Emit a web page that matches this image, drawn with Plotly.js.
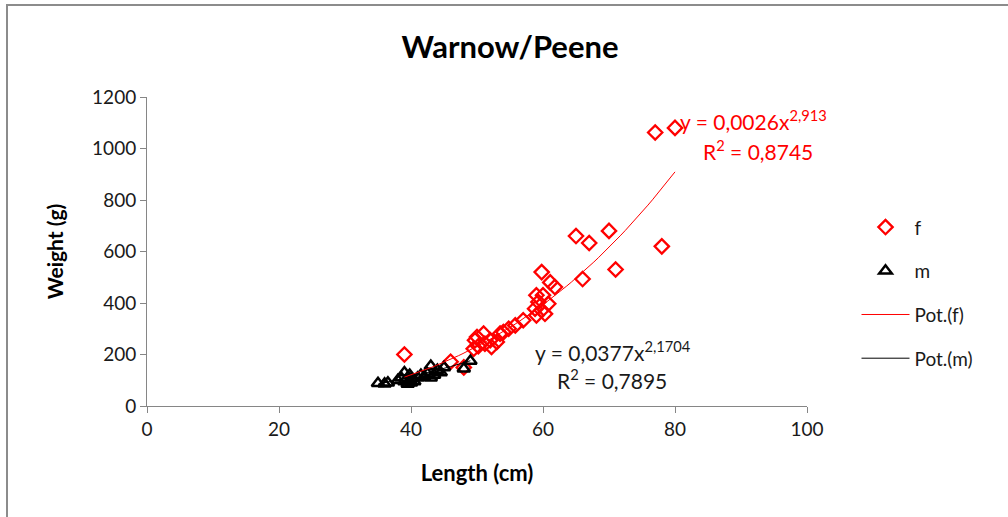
<!DOCTYPE html>
<html>
<head>
<meta charset="utf-8">
<script src="https://cdn.plot.ly/plotly-3.0.1.min.js"></script>
<style>html,body{margin:0;padding:0;background:#fff;}#chart{width:1008px;height:517px;}</style>
</head>
<body>
<div id="chart"></div>
<script>
// Female (f) observations: length (cm), weight (g)
var fLength = [39, 46, 48, 49.5, 49.7, 50, 50.2, 51, 51.2, 52, 52.2, 53, 53.5, 54, 54.8, 55.8, 57, 58.8, 59, 59, 59.3, 59.8, 59.8, 60, 60.3, 60.8, 61.1, 61.8, 65, 66, 67, 70, 71, 77, 78, 80];
var fWeight = [200, 172, 150, 222, 255, 268, 232, 281, 242, 255, 229, 249, 281, 287, 300, 313, 333, 378, 352, 430, 404, 372, 520, 430, 358, 397, 480, 462, 660, 493, 633, 680, 530, 1062, 620, 1080];
// Male (m) observations
var mLength = [35, 36, 36.5, 38, 38.5, 39, 39, 39.5, 39.8, 40, 40, 40.5, 41, 41.5, 42, 42.5, 43, 43, 43.5, 44, 44.5, 45, 48, 49];
var mWeight = [88, 86, 90, 100, 110, 130, 95, 85, 120, 90, 105, 95, 110, 120, 115, 125, 155, 110, 120, 140, 130, 150, 145, 175];
// Power trendline coefficients shown in the chart: y = a * x^b
var fFit = {a: 0.0026, b: 2.913, r2: "0,8745", eq: "y = 0,0026x<sup>2,913</sup>"};
var mFit = {a: 0.0377, b: 2.1704, r2: "0,7895", eq: "y = 0,0377x<sup>2,1704</sup>"};
var xTicks = [0, 20, 40, 60, 80, 100];
var yTicks = [0, 200, 400, 600, 800, 1000, 1200];

function trend(fit, xs) {
  var lo = Math.min.apply(null, xs), hi = Math.max.apply(null, xs);
  var X = [], Y = [];
  for (var i = 0; i <= 60; i++) {
    var x = lo + (hi - lo) * i / 60;
    X.push(x); Y.push(fit.a * Math.pow(x, fit.b));
  }
  return {x: X, y: Y};
}
var tf = trend(fFit, fLength), tm = trend(mFit, mLength);

var FONT = "Lato, 'Open Sans', sans-serif";
var traces = [
  {x: fLength, y: fWeight, name: "f", mode: "markers", type: "scatter", legendgroup: "a",
   marker: {symbol: "diamond-open", size: 11, color: "#FF0000", line: {width: 2.3, color: "#FF0000"}}},
  {x: mLength, y: mWeight, name: "m", mode: "markers", type: "scatter", legendgroup: "b",
   marker: {symbol: "triangle-up-open", size: 11, color: "#000000", line: {width: 2.5, color: "#000000"}}},
  {x: tf.x, y: tf.y, name: "Pot.(f)", mode: "lines", type: "scatter", legendgroup: "c",
   line: {color: "#FF0000", width: 1}},
  {x: tm.x, y: tm.y, name: "Pot.(m)", mode: "lines", type: "scatter", legendgroup: "d",
   line: {color: "#000000", width: 1}}
];

var layout = {
  width: 1008, height: 517,
  margin: {l: 147, r: 201, t: 97, b: 111},
  paper_bgcolor: "#fff", plot_bgcolor: "#fff",
  font: {family: FONT, size: 18, color: "#1a1a1a"},
  title: {text: "<b>Warnow/Peene</b>", font: {family: FONT, size: 31, color: "#000"},
          x: 510 / 1008, xanchor: "center", y: 1 - 47/517, yanchor: "middle", yref: "container"},
  xaxis: {range: [0, 100], tickvals: xTicks, ticks: "outside", ticklen: 6, tickcolor: "#868686",
          showline: true, linecolor: "#868686", linewidth: 1, showgrid: false, zeroline: false,
          tickfont: {size: 19}, fixedrange: true,
          title: {text: "<b>Length (cm)</b>", font: {size: 22, color: "#000"}, standoff: 26}},
  yaxis: {range: [0, 1200], tickvals: yTicks, ticks: "outside", ticklen: 6, tickcolor: "#868686",
          showline: true, linecolor: "#868686", linewidth: 1, showgrid: false, zeroline: false,
          tickfont: {size: 19}, fixedrange: true,
          title: {text: "<b>Weight (g)</b>", font: {size: 21, color: "#000"}, standoff: 22}},
  showlegend: true,
  legend: {x: 1.075, y: 0.64, xanchor: "left", yanchor: "top", traceorder: "grouped",
           tracegroupgap: 16, font: {size: 19, color: "#1a1a1a"}, bgcolor: "rgba(0,0,0,0)", itemwidth: 48},
  annotations: [
    {xref: "x", yref: "y", x: 80.5, y: 1110, xanchor: "left", yanchor: "middle", showarrow: false,
     text: fFit.eq, font: {size: 21, color: "#FF0000"}},
    {xref: "x", yref: "y", x: 84, y: 994, xanchor: "left", yanchor: "middle", showarrow: false,
     text: "R<sup>2</sup> = " + fFit.r2, font: {size: 21, color: "#FF0000"}},
    {xref: "x", yref: "y", x: 58.5, y: 212, xanchor: "left", yanchor: "middle", showarrow: false,
     text: mFit.eq, font: {size: 21, color: "#1a1a1a"}},
    {xref: "x", yref: "y", x: 61.8, y: 105, xanchor: "left", yanchor: "middle", showarrow: false,
     text: "R<sup>2</sup> = " + mFit.r2, font: {size: 21, color: "#1a1a1a"}}
  ],
  shapes: [
    {type: "rect", xref: "paper", yref: "paper", x0: (7 - 147) / 660, x1: 1.5,
     y0: -0.6, y1: (406 - 5) / 309, line: {color: "#8c8c8c", width: 2}, fillcolor: "rgba(0,0,0,0)"}
  ]
};

Plotly.newPlot("chart", traces, layout, {displayModeBar: false, staticPlot: true});
</script>
</body>
</html>
